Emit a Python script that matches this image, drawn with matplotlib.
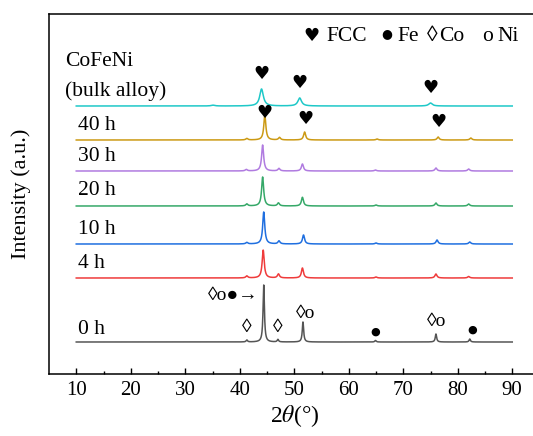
import numpy as np
import matplotlib
matplotlib.use("Agg")
import matplotlib.pyplot as plt

plt.rcParams["font.family"] = ["Liberation Serif", "DejaVu Sans"]
plt.rcParams["mathtext.fontset"] = "stix"

# sample labels, bottom to top
samples = ["0 h", "4 h", "10 h", "20 h", "30 h", "40 h", "bulk"]
colors = ["#555555", "#ef3b3b", "#1f6fe0", "#35a868", "#b07be0", "#cc9a14", "#1ec8c8"]
offsets = [32, 96, 130, 168, 203, 234, 268]

# peak positions (2theta), heights (a.u.), widths (FWHM) per sample
peak_pos = {
    "0 h": [41.3, 44.4, 47.0, 51.6, 64.9, 76.0, 82.2],
    "4 h": [41.3, 44.3, 47.1, 51.5, 65.0, 76.0, 82.0],
    "10 h": [41.3, 44.4, 47.2, 51.7, 65.0, 76.2, 82.2],
    "20 h": [41.3, 44.2, 47.1, 51.5, 65.0, 76.0, 82.0],
    "30 h": [41.2, 44.2, 47.2, 51.5, 64.9, 76.0, 82.0],
    "40 h": [41.3, 44.6, 47.3, 51.9, 65.2, 76.4, 82.4],
    "bulk": [35.1, 44.0, 51.0, 75.0],
}
peak_height = {
    "0 h": [2, 57, 2.5, 20, 1.5, 8, 3],
    "4 h": [2, 28, 4, 10, 1, 4, 1.5],
    "10 h": [1.5, 32, 3, 9, 1, 4, 2],
    "20 h": [2, 29, 3, 8.7, 1, 3, 2],
    "30 h": [1.5, 26, 2.5, 7, 1, 3, 2],
    "40 h": [1.5, 25, 2.5, 8, 1, 3, 2],
    "bulk": [0.8, 17, 8, 3],
}
peak_width = {
    "0 h": 0.3,
    "4 h": 0.45,
    "10 h": 0.45,
    "20 h": 0.45,
    "30 h": 0.45,
    "40 h": 0.45,
    "bulk": 0.8,
}

two_theta = np.linspace(10, 90, 2001)

# phase markers: (x, y, text)
bulk_hearts = [(44.0, 300), (51.0, 291), (75.0, 286)]
hearts_40h = [(44.6, 261), (52.0, 255), (76.4, 252)]
marks_0h = [
    (41.2, 46, "\u25CA"),
    (47.0, 46, "\u25CA"),
    (52.0, 61, "\u25CAo"),
    (64.9, 42, "\u25CF"),
    (76.2, 52, "\u25CAo"),
    (82.6, 44, "\u25CF"),
]

# legend row: (x, text, font size, horizontal alignment)
legend_items = [
    (53.2, "\u2665", 13, "center"),
    (55.9, "FCC", 15.5, "left"),
    (67.0, "\u25CF", 9, "center"),
    (68.9, "Fe", 15.5, "left"),
    (75.4, "\u25CA", 15.5, "center"),
    (76.6, "Co", 15.5, "left"),
    (85.4, "o", 15.5, "center"),
    (87.3, "Ni", 15.5, "left"),
]

dejavu = ["DejaVu Sans"]


def pattern(name):
    y = np.zeros_like(two_theta)
    w = peak_width[name] / 2
    for pos, h in zip(peak_pos[name], peak_height[name]):
        y += h * w**2 / ((two_theta - pos) ** 2 + w**2)
    return y


def glyph_font(t):
    return dejavu if t in ("\u2665", "\u25CF") else None


def main():
    fig = plt.figure(figsize=(5.33, 4.36), dpi=100)
    ax = fig.add_axes([49 / 533, 62 / 436, 490.5 / 533, 360 / 436])

    for name, color, off in zip(samples, colors, offsets):
        ax.plot(two_theta, pattern(name) + off, color=color, lw=1.1)

    ax.set_xlim(5, 95)
    ax.set_ylim(0, 360)
    ax.set_xticks(range(10, 91, 10))
    ax.set_xticks(range(15, 90, 10), minor=True)
    ax.set_yticks([])
    ax.tick_params(axis="x", which="major", direction="in", length=4.5, width=1, labelsize=15, pad=5)
    ax.tick_params(axis="x", which="minor", direction="in", length=2.2, width=1)
    for s in ax.spines.values():
        s.set_linewidth(1.1)

    ax.set_xlabel(r"2$\theta$(°)", fontsize=17, labelpad=2)
    ax.set_ylabel("Intensity (a.u.)", fontsize=16)
    ax.yaxis.set_label_coords(-0.036, 0.5)

    # sample labels
    fs = 15.5
    ax.text(7.9, 312, "CoFeNi", fontsize=fs, va="center")
    ax.text(7.9, 283, "(bulk alloy)", fontsize=fs, va="center")
    label_y = [44, 110, 144, 183, 217, 248]
    for name, ly in zip(samples[:-1], label_y):
        ax.text(10.3, ly, name, fontsize=fs, va="center")

    for x, y in bulk_hearts + hearts_40h:
        ax.text(x, y, "\u2665", fontsize=13, ha="center", va="center", family=dejavu)
    for x, y, t in marks_0h:
        size = 8 if t == "\u25CF" else 14
        ax.text(x, y, t, fontsize=size, ha="center", va="center", family=glyph_font(t))
    ax.text(43.4, 79, "\u25CAo\u25CF\u2192", fontsize=14, ha="right", va="center")

    for x, t, size, ha in legend_items:
        y = 340 if t == "\u25CF" else 337.5
        ax.text(x, y, t, fontsize=size, ha=ha, va="center", family=glyph_font(t))

    fig.savefig("out.png", dpi=100)


if __name__ == "__main__":
    main()
